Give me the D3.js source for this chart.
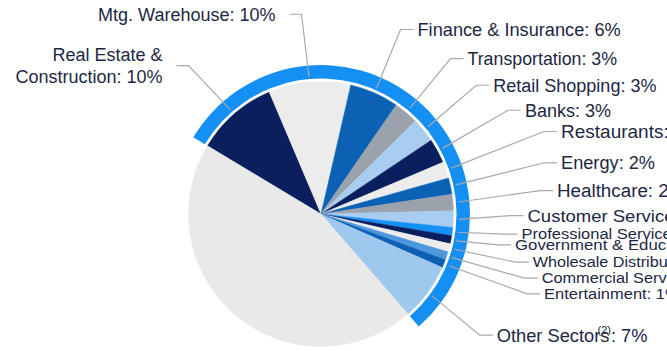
<!DOCTYPE html>
<html>
<head>
<meta charset="utf-8">
<script src="https://cdn.jsdelivr.net/npm/d3@7/dist/d3.min.js"></script>
<style>
  html, body { margin: 0; padding: 0; background: #ffffff; }
  svg { display: block; font-family: "Liberation Sans", Arial, sans-serif; }
</style>
</head>
<body>
<svg id="chart" width="667" height="351"></svg>
<script>
// Loan portfolio by sector (percent of total)
const categories = [
  "Real Estate & Construction", "Mtg. Warehouse", "Finance & Insurance",
  "Transportation", "Retail Shopping", "Banks", "Restaurants", "Energy",
  "Healthcare", "Customer Service", "Professional Services",
  "Government & Education", "Wholesale Distribution", "Commercial Services",
  "Entertainment", "Other Sectors", "Remaining Portfolio"
];
const values = [10, 10, 6, 3, 3, 3, 2, 2, 2, 2, 1, 1, 1, 1, 1, 7, 45];
// Label text lines (the last entry has no label)
const labelLines = [
  ["Real Estate &", "Construction: 10%"], ["Mtg. Warehouse: 10%"],
  ["Finance & Insurance: 6%"], ["Transportation: 3%"], ["Retail Shopping: 3%"],
  ["Banks: 3%"], ["Restaurants: 2%"], ["Energy: 2%"], ["Healthcare: 2%"],
  ["Customer Service: 2%"], ["Professional Services: 1%"],
  ["Government & Education: 1%"], ["Wholesale Distribution: 1%"],
  ["Commercial Services: 1%"], ["Entertainment: 1%"], ["Other Sectors", ": 7%"], null
];
// Sectors covered by the highlighted outer band
const bandSectors = categories.slice(0, 16);

// Styling
const navy = "#0b1f5e", pale = "#ececec", mid = "#0b62b5", grey = "#9aa2ab",
      light = "#a8cdf0", bright = "#1490f4";
const sliceColors = [navy, pale, mid, grey, light, navy, pale, mid, grey, light,
                     bright, navy, pale, "#4d97dd", "#0c5fb2", "#9fc8ee", "#e9e9e9"];
const textColor = "#1d2744";
const leaderColor = "#a9a9a9";

// Label placement: anchor x, first baseline y, font size, vertical squeeze, side
const labelSpots = [
  { x: 162.5, y: 61,  size: 18, side: "left", lineGap: 22.3 },
  { x: 275.5, y: 20.7, size: 18, side: "left" },
  { x: 417.5, y: 36,  size: 18.2, side: "right" },
  { x: 467.5, y: 65,  size: 17.8, side: "right" },
  { x: 493.3, y: 91.7, size: 18, side: "right" },
  { x: 525,  y: 116.7, size: 18, side: "right" },
  { x: 561,  y: 138.3, size: 19, side: "right" },
  { x: 561,  y: 169.3, size: 18.2, side: "right" },
  { x: 557,  y: 197.3, size: 18.8, side: "right" },
  { x: 527.5, y: 221.7, size: 18.5, side: "right", squeeze: 0.92 },
  { x: 521.5, y: 239.3, size: 16.5, side: "right", squeeze: 0.86 },
  { x: 515,  y: 250,   size: 16.8, side: "right", squeeze: 0.86 },
  { x: 532.7, y: 267.3, size: 16.2, side: "right", squeeze: 0.88 },
  { x: 541.7, y: 283.3, size: 16.3, side: "right", squeeze: 0.88 },
  { x: 544,  y: 299,   size: 16.5, side: "right", squeeze: 0.88 },
  { x: 496.7, y: 341.7, size: 18.3, side: "right" },
  null
];

const svg = d3.select("#chart");
const cx = 321, cy = 214;
const rPie = 132.5, rBandIn = 135.5, rBandOut = 149, rLeader = 138;
const startDeg = 301;
const g = svg.append("g").attr("transform", `translate(${cx},${cy})`);

const data = categories.map((c, i) => ({ name: c, value: values[i], i }));
const start = startDeg * Math.PI / 180;
const pie = d3.pie().value(d => d.value).sort(null)
  .startAngle(start).endAngle(start + 2 * Math.PI);
const arcs = pie(data);

const arcGen = d3.arc().innerRadius(0).outerRadius(rPie);
g.selectAll("path.slice").data(arcs).join("path")
  .attr("class", "slice")
  .attr("d", arcGen)
  .attr("fill", d => sliceColors[d.data.i])
  .attr("stroke", d => sliceColors[d.data.i])
  .attr("stroke-width", 0.4);

// Outer band spanning the listed sectors
const bandArcs = arcs.filter(a => bandSectors.includes(a.data.name));
const bandStart = d3.min(bandArcs, a => a.startAngle);
const bandEnd = d3.max(bandArcs, a => a.endAngle);
g.append("path")
  .attr("d", d3.arc().innerRadius(rBandIn).outerRadius(rBandOut)
    .startAngle(bandStart).endAngle(bandEnd)())
  .attr("fill", bright);

// Leader lines and labels
const pt = (angle, r) => [Math.sin(angle) * r, -Math.cos(angle) * r];
arcs.forEach(a => {
  const spot = labelSpots[a.data.i];
  const lines = labelLines[a.data.i];
  if (!spot || !lines) return;
  const sq = spot.squeeze || 1;
  const mid = (a.startAngle + a.endAngle) / 2;
  const [sx, sy] = pt(mid, rLeader);
  const nLines = a.data.name === "Other Sectors" ? 1 : lines.length;
  const gap = spot.lineGap || 0;
  const lastBase = spot.y + gap * (nLines - 1);
  const capMid = (spot.y - spot.size * 0.716 * sq + lastBase) / 2;
  let ex, hx;
  if (spot.side === "right") { ex = spot.x - 17; hx = spot.x - 4; }
  else { ex = spot.x + 26; hx = spot.x + 14; }
  svg.append("path")
    .attr("d", d3.line()([[cx + sx, cy + sy], [ex, capMid], [hx, capMid]]))
    .attr("fill", "none")
    .attr("stroke", leaderColor)
    .attr("stroke-width", 1.2);

  const t = svg.append("text")
    .attr("transform", `translate(${spot.x},${spot.y}) scale(1,${sq})`)
    .attr("fill", textColor)
    .attr("font-size", spot.size)
    .attr("text-anchor", spot.side === "left" ? "end" : "start");
  if (a.data.name === "Other Sectors") {
    t.append("tspan").text(lines[0]);
    t.append("tspan").text("(2)").attr("font-size", 11).attr("dx", -12).attr("dy", -8);
    t.append("tspan").text(lines[1]).attr("dy", 8);
  } else {
    lines.forEach((ln, k) => {
      t.append("tspan").attr("x", 0).attr("y", (gap * k) / sq).text(ln);
    });
  }
});
</script>
</body>
</html>
